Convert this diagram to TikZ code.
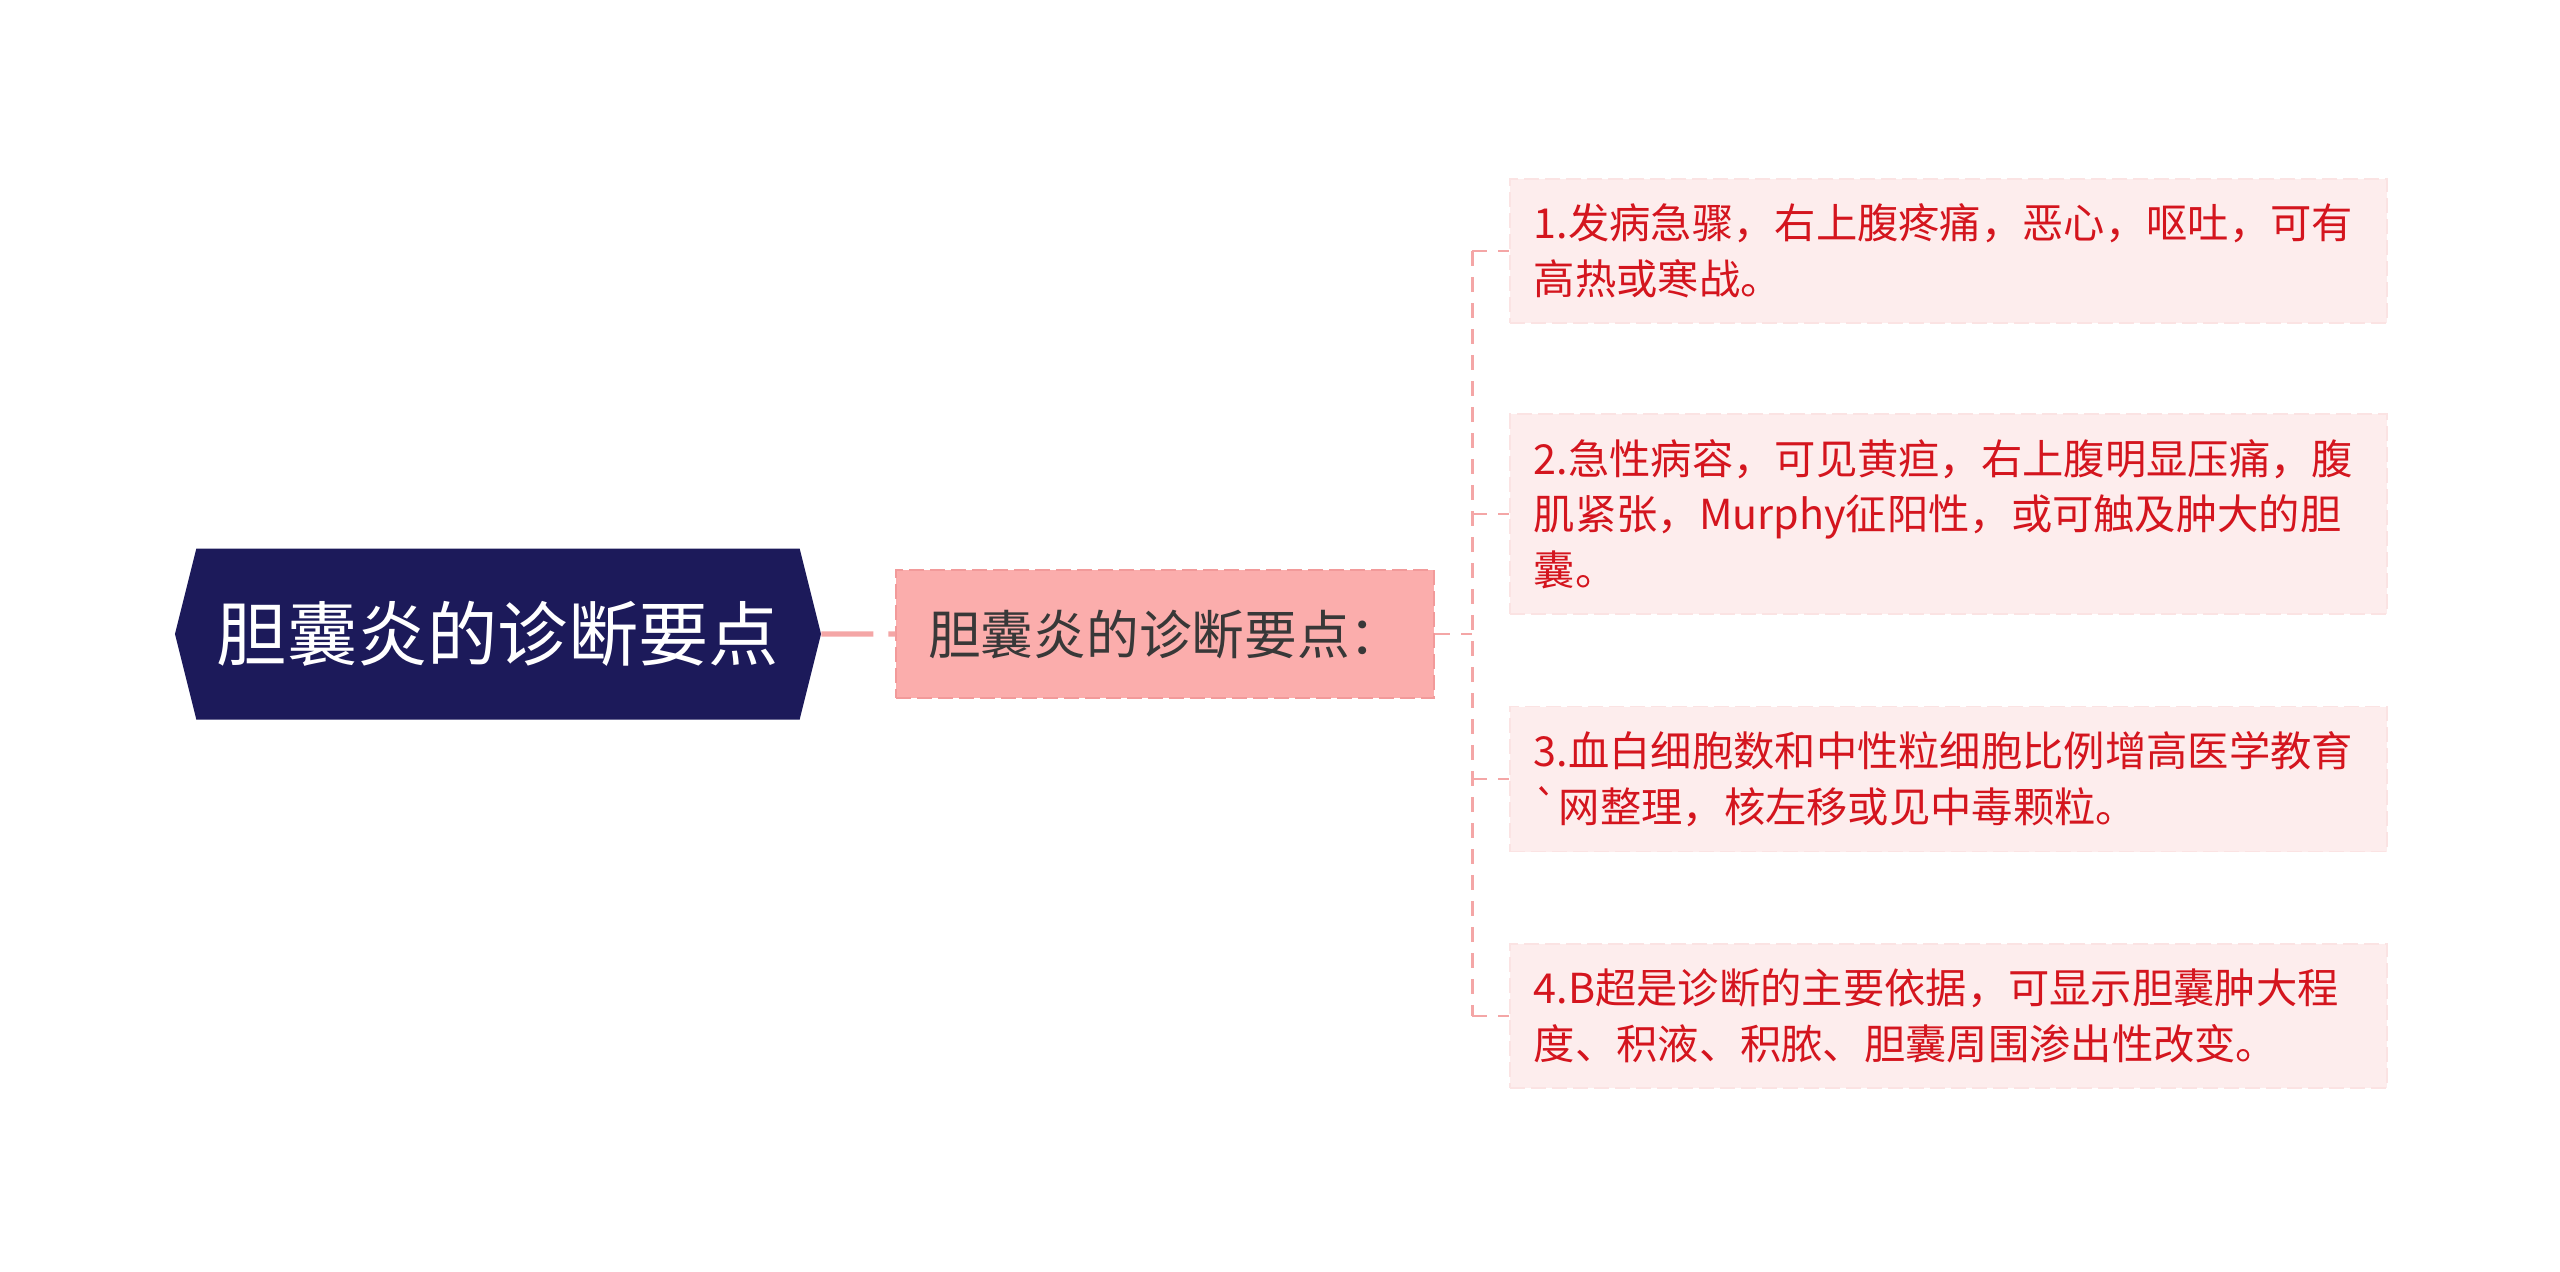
\documentclass[tikz,border=0pt]{standalone}
\usepackage{fontspec}
\setmainfont{Noto Sans CJK SC}[Ligatures=TeXOff]
\usepackage{xcolor}
\usepackage{tikz}
\usetikzlibrary{positioning,shapes.symbols}

\definecolor{rootblue}{HTML}{1C1A5A}
\definecolor{subfill}{HTML}{FBADAC}
\definecolor{subline}{HTML}{F29A9A}
\definecolor{leaffill}{HTML}{FDEDED}
\definecolor{leafline}{HTML}{FBE3E3}
\definecolor{leaftext}{HTML}{D4151E}
\definecolor{linkpink}{HTML}{F4A6A6}

\begin{document}
\begin{tikzpicture}[
	rootnode/.style={signal, signal to=west and east, signal pointer angle=152,
		fill=rootblue, text=white, minimum width=12.92cm, minimum height=3.42cm,
		inner sep=0pt, font=\fontsize{40}{48}\selectfont},
	subnode/.style={rectangle, fill=subfill, draw=subline, line width=1.2pt,
		dash pattern=on 0.3cm off 0.12cm, text=black!78, minimum width=10.76cm,
		minimum height=2.56cm, inner sep=0pt, font=\fontsize{30}{36}\selectfont},
	leafnode/.style={rectangle, fill=leaffill, draw=leafline, line width=1pt,
		dash pattern=on 0.3cm off 0.12cm, text=leaftext, text width=16.6cm,
		align=left, inner xsep=0.47cm, inner ysep=0.5cm,
		font=\fontsize{23.5}{31.6}\selectfont},
	rootlink/.style={draw=linkpink, line width=3pt, dash pattern=on 1.04cm off 0.3cm},
	branch/.style={draw=linkpink, line width=1.6pt, dash pattern=on 0.3cm off 0.22cm}
	]
	\useasboundingbox (-9.96,-12.74) rectangle (41.24,12.68);

	\node[rootnode] (root) at (0,0) {胆囊炎的诊断要点};
	\node[subnode, right=1.48cm of root] (sub) {胆囊炎的诊断要点：};

	\node[leafnode, right=1.48cm of sub, yshift=7.66cm] (p1) {1.发病急骤，右上腹疼痛，恶心，呕吐，可有\\高热或寒战。};
	\node[leafnode, right=1.48cm of sub, yshift=2.4cm] (p2) {2.急性病容，可见黄疸，右上腹明显压痛，腹\\肌紧张，Murphy征阳性，或可触及肿大的胆\\囊。};
	\node[leafnode, right=1.48cm of sub, yshift=-2.9cm] (p3) {3.血白细胞数和中性粒细胞比例增高医学教育\\`网整理，核左移或见中毒颗粒。};
	\node[leafnode, right=1.48cm of sub, yshift=-7.64cm] (p4) {4.B超是诊断的主要依据，可显示胆囊肿大程\\度、积液、积脓、胆囊周围渗出性改变。};

	\coordinate[right=0.74cm of sub.east] (fork);

	\path[rootlink] (root) -- (sub);
	\path[branch] (sub) -- (fork);
	\path[branch] (fork |- p1.west) -- (fork |- p4.west);
	\foreach \i in {1,...,4}
		\path[branch] (fork |- p\i.west) -- (p\i);
\end{tikzpicture}
\end{document}
